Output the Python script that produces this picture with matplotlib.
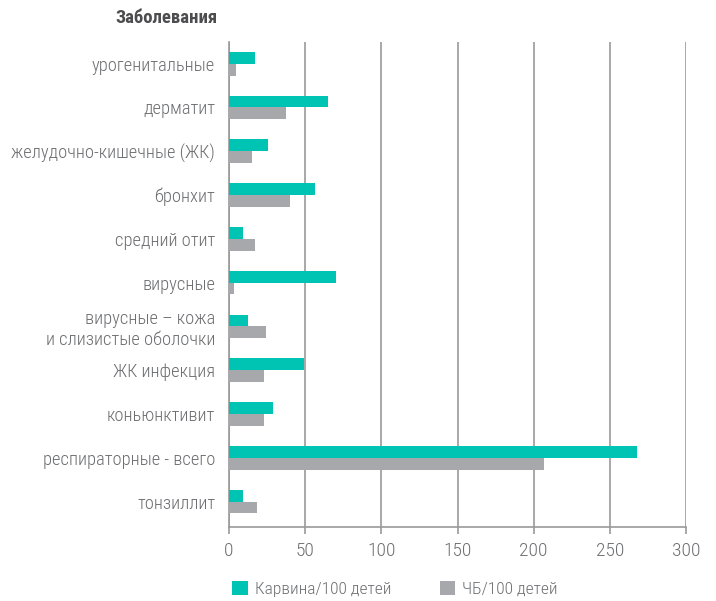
import matplotlib.pyplot as plt
import numpy as np

plt.rcParams['font.family'] = ['Roboto Condensed', 'Liberation Sans Narrow', 'DejaVu Sans']

# категории сверху вниз
categories = [
    'урогенитальные',
    'дерматит',
    'желудочно-кишечные (ЖК)',
    'бронхит',
    'средний отит',
    'вирусные',
    'вирусные – кожа\nи слизистые оболочки',
    'ЖК инфекция',
    'коньюнктивит',
    'респираторные - всего',
    'тонзиллит',
]
karvina = [17, 65, 25.5, 56.5, 9, 70, 12.5, 49, 29, 268, 9]
chb = [4.5, 37.5, 15, 40, 17, 3.5, 24, 23, 23, 207, 18.5]
xticks = [0, 50, 100, 150, 200, 250, 300]

teal = '#00c4b3'
grey = '#a7a8ab'
text_col = '#6d6e71'
line_col = '#9a9a9a'

fig = plt.figure(figsize=(7.16, 6.01), dpi=100)
ax = fig.add_axes([229 / 716, 1 - 527 / 601, 457 / 716, 485 / 601])

y = np.arange(len(categories))
h = 0.27
ax.barh(y - h / 2, karvina, height=h, color=teal, label='Карвина/100 детей', zorder=3)
ax.barh(y + h / 2, chb, height=h, color=grey, label='ЧБ/100 детей', zorder=3)

ax.set_xlim(0, 300)
ax.set_ylim(10.58, -0.495)
ax.set_xticks(xticks)
ax.set_yticks(y)
ax.set_yticklabels(categories, fontsize=13.3, color=text_col, linespacing=1.2,
                   fontweight='light')
ax.tick_params(axis='y', length=0, pad=10)
ax.tick_params(axis='x', length=5, width=1.2, color=line_col, labelsize=14,
               labelcolor=text_col, pad=6)
for lb in ax.get_xticklabels():
    lb.set_fontweight('light')

ax.grid(axis='x', color=line_col, linewidth=1.2, zorder=0)
for s in ['top', 'right']:
    ax.spines[s].set_visible(False)
for s in ['left', 'bottom']:
    ax.spines[s].set_color(line_col)
    ax.spines[s].set_linewidth(1.2)

fig.text(218 / 716, 1 - 18 / 601, 'Заболевания', ha='right', va='center',
         fontsize=13.5, fontweight='bold', color='#4d4d4f')

fig.legend(loc='center', bbox_to_anchor=(395 / 716, 1 - 589 / 601), ncol=2,
           frameon=False, prop={'size': 12.5, 'weight': 'light'}, labelcolor=text_col,
           handlelength=0.9, handleheight=0.9, handletextpad=0.4,
           columnspacing=2.8)

fig.savefig('out.png', dpi=100)
